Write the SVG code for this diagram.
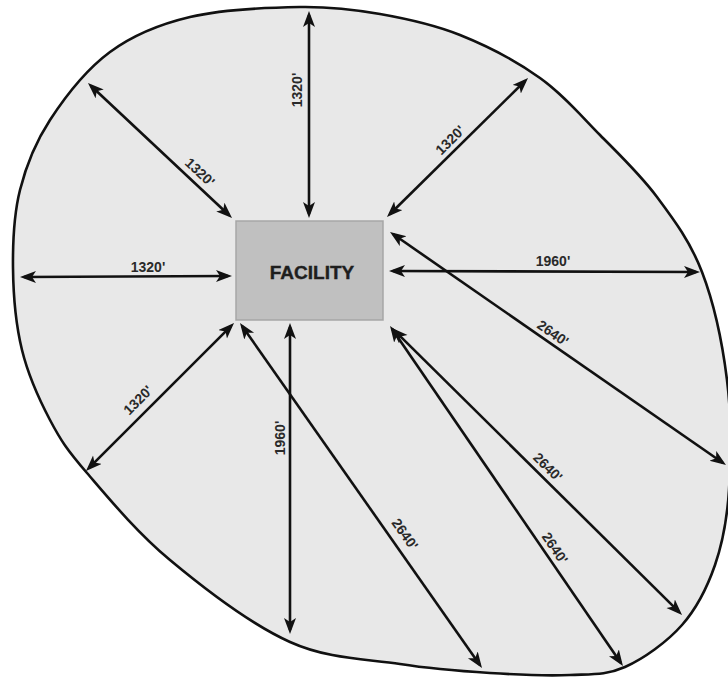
<svg xmlns="http://www.w3.org/2000/svg" width="728" height="681" viewBox="0 0 728 681">
<defs>
<marker id="ah" markerUnits="userSpaceOnUse" markerWidth="18" markerHeight="14" refX="12" refY="6" orient="auto-start-reverse" viewBox="0 0 18 14">
<path d="M0,0 L16,6 L0,12 L4,6 z" fill="#111"/>
</marker>
</defs>
<style>
.arr{stroke:#111;stroke-width:2.6;fill:none;marker-start:url(#ah);marker-end:url(#ah)}
.lbl{font-family:"Liberation Sans",Arial,sans-serif;font-weight:bold;font-size:14px;fill:#2a2a2a;text-anchor:middle;dominant-baseline:central}
</style>
<rect width="728" height="681" fill="#ffffff"/>
<g id="zone">
<path d="M300,7 C268.3,7.5 221.7,9.5 190,17 C158.3,24.5 133.3,34.8 110,52 C86.7,69.2 65,97 50,120 C35,143 26.2,165.3 20,190 C13.8,214.7 12.7,241.3 13,268 C13.3,294.7 15.8,324.7 22,350 C28.2,375.3 39.2,399.5 50,420 C60.8,440.5 67,449.7 87,473 C107,496.3 136.2,531.8 170,560 C203.8,588.2 251.7,624.7 290,642 C328.3,659.3 366.7,658.8 400,664 C433.3,669.2 461.7,671.2 490,673 C518.3,674.8 547.5,676 570,675 C592.5,674 606.3,675.3 625,667 C643.7,658.7 667,642 682,625 C697,608 707.2,587.5 715,565 C722.8,542.5 727,520.8 729,490 C731,459.2 731.5,416.3 727,380 C722.5,343.7 713.7,302.5 702,272 C690.3,241.5 674,219.8 657,197 C640,174.2 619.5,154.8 600,135 C580.5,115.2 563.3,94.7 540,78 C516.7,61.3 486.7,45.7 460,35 C433.3,24.3 406.7,18.7 380,14 C353.3,9.3 331.7,6.5 300,7 Z" fill="#e8e8e8" stroke="#111" stroke-width="2.6"/>
</g>
<g id="facility">
<rect x="236" y="221" width="147" height="99" fill="#c0c0c0" stroke="#a6a6a6" stroke-width="1.5"/>
<text x="312" y="272" class="lbl" style="font-size:19px;fill:#1e1e1e;stroke:#1e1e1e;stroke-width:0.4">FACILITY</text>
</g>
<g id="connectors">
<line class="arr" x1="90.9" y1="85.7" x2="229.1" y2="215.3"/>
<line class="arr" x1="309" y1="15" x2="309" y2="214"/>
<line class="arr" x1="389.8" y1="214.2" x2="525.2" y2="80.8"/>
<line class="arr" x1="24" y1="277" x2="228" y2="276"/>
<line class="arr" x1="393" y1="271" x2="696" y2="272"/>
<line class="arr" x1="393.3" y1="234.3" x2="722.7" y2="462.7"/>
<line class="arr" x1="88.8" y1="468.2" x2="231.2" y2="325.8"/>
<line class="arr" x1="290" y1="327" x2="290" y2="630"/>
<line class="arr" x1="242.3" y1="326.3" x2="479.7" y2="664.7"/>
<line class="arr" x1="392.3" y1="329.3" x2="620.7" y2="662.7"/>
<line class="arr" x1="394.8" y1="330.8" x2="679.2" y2="612.2"/>
</g>
<g id="labels">
<text class="lbl" transform="translate(200,172) rotate(43)">1320'</text>
<text class="lbl" transform="translate(297,90) rotate(-90)">1320'</text>
<text class="lbl" transform="translate(450,140) rotate(-44.6)">1320'</text>
<text class="lbl" transform="translate(148,267)">1320'</text>
<text class="lbl" transform="translate(553,261)">1960'</text>
<text class="lbl" transform="translate(553,333) rotate(34.7)">2640'</text>
<text class="lbl" transform="translate(138,400) rotate(-45)">1320'</text>
<text class="lbl" transform="translate(280,438) rotate(-90)">1960'</text>
<text class="lbl" transform="translate(405,534) rotate(55)">2640'</text>
<text class="lbl" transform="translate(555,548) rotate(55.6)">2640'</text>
<text class="lbl" transform="translate(548,467) rotate(44.7)">2640'</text>
</g>
</svg>
